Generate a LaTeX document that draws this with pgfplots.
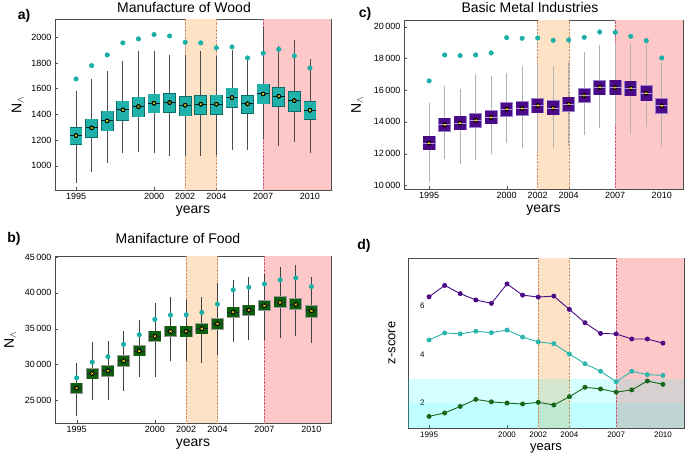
\documentclass[border=0pt]{standalone}
\usepackage{fontspec}
\setmainfont{Liberation Sans}
\usepackage{pgfplots}
\usepackage{pgfplotstable}
\pgfplotsset{compat=1.18}
\definecolor{tealbox}{HTML}{20B2AA}
\definecolor{tealedge}{HTML}{0E6B66}
\definecolor{dotcol}{HTML}{1AB0A8}
\definecolor{purplebox}{HTML}{4B0A86}
\definecolor{purpleedge}{HTML}{9A80D0}
\definecolor{greenbox}{HTML}{0D5E0D}
\definecolor{orangeband}{HTML}{FDE2C5}
\definecolor{redband}{HTML}{FFC8C8}
\definecolor{orangeline}{HTML}{D09060}
\definecolor{redline}{HTML}{C06070}
\definecolor{lpurple}{HTML}{4B0A86}
\definecolor{lcyan}{HTML}{2AB5AD}
\definecolor{lgreen}{HTML}{17661A}
\definecolor{rgbcyan}{RGB}{0,255,255}
\definecolor{meanyel}{HTML}{D8F020}
% x: 0 = 1995 ... 15 = 2010 ; lw lq med uq uw = box plot, dot = top marker
\pgfplotstableread{
x lw lq med uq uw dot
0 888 1166 1234 1296 1558 1675
1 971 1221 1294 1361 1655 1779
2 1042 1273 1348 1423 1712 1862
3 1119 1356 1434 1501 1790 1956
4 1132 1382 1460 1532 1868 1987
5 1125 1413 1486 1556 1868 2021
6 1101 1416 1491 1561 1836 2010
7 1096 1390 1470 1538 1842 1961
8 1101 1400 1478 1545 1868 1956
9 1104 1400 1478 1548 1834 1917
10 1145 1457 1530 1603 1878 1925
11 1145 1408 1481 1543 1834 1839
12 1231 1483 1558 1634 2055 1875
13 1174 1465 1540 1605 1912 1906
14 1208 1423 1506 1577 1958 1855
15 1122 1361 1431 1499 1808 1761
}\wood
\pgfplotstableread{
x lw lq med uq uw dot
0 10419 12243 12662 13082 15010 16583
1 11824 13396 13816 14235 16101 18218
2 11530 13501 13920 14340 15900 18176
3 11761 13648 14088 14507 16813 18218
4 12180 13878 14277 14717 16730 18344
5 12872 14360 14801 15220 16876 19308
6 12558 14423 14843 15283 17358 19266
7 12306 14591 15031 15451 17442 19287
8 12558 14444 14864 15325 17317 19140
9 12662 14675 15115 15555 17568 19161
10 13333 15241 15660 16080 18239 19329
11 13794 15702 16184 16604 18679 19665
12 14046 15702 16164 16625 18784 19644
13 13438 15660 16122 16562 18700 19392
14 13857 15346 15807 16268 18994 19119
15 12579 14549 15010 15451 17547 18029
}\metal
\pgfplotstableread{
x lw lq med uq uw dot
0 23241 26019 26713 27361 29800 28148
1 25509 28056 28750 29398 32731 30350
2 25509 28426 29120 29769 32824 31100
3 26713 29815 30509 31157 34213 32824
4 28657 31250 31898 32593 35787 34167
5 28750 33241 33935 34630 38102 36296
6 30880 33935 34630 35324 38981 36898
7 30880 33889 34630 35324 38565 36944
8 30648 34306 35000 35694 38935 37269
9 31713 35000 35694 36389 40950 38426
10 33611 36620 37315 37963 41389 40417
11 33796 36898 37593 38241 41852 40787
12 33843 37546 38194 38889 42222 41250
13 34120 37963 38657 39398 43241 41806
14 34350 37685 38380 39120 43519 42083
15 33380 36574 37500 38194 41806 40880
}\food
\pgfplotstableread{
x purple cyan green
0 6.38 4.60 1.45
1 6.85 4.89 1.59
2 6.51 4.85 1.86
3 6.25 4.96 2.15
4 6.11 4.90 2.05
5 6.91 5.01 2.00
6 6.45 4.72 1.96
7 6.37 4.52 2.03
8 6.41 4.45 1.92
9 5.86 4.02 2.26
10 5.31 3.62 2.65
11 4.87 3.31 2.58
12 4.85 2.88 2.45
13 4.64 3.31 2.54
14 4.64 3.17 2.91
15 4.47 3.14 2.77
}\zscore
\pgfplotsset{
  common/.style={scale only axis, xmin=-1.35, xmax=16.35,
    xtick={0,5,7,9,12,15}, xticklabels={1995,2000,2002,2004,2007,2010},
    scaled y ticks=false,
    axis line style={draw=black!70, line width=0.8pt},
    tick style={black!70}, tick align=inside, xtick pos=bottom, ytick pos=left,
    major tick length=3pt,
    tick label style={font=\fontsize{9}{10}\selectfont},
    label style={font=\fontsize{14}{15}\selectfont},
    xlabel={years}, xlabel style={yshift=1pt},
    /pgf/number format/assume math mode=true},
  whisk/.style={only marks, mark=none, forget plot,
    error bars/.cd, y dir=both, y explicit, error mark=-,
    error mark options={draw=#1, mark size=3pt, line width=0.7pt},
    error bar style={draw=#1, line width=0.7pt}},
  boxfill/.style 2 args={only marks, mark=none, forget plot,
    error bars/.cd, y dir=both, y explicit, error mark=none,
    error bar style={draw=#1, line width=#2}},
}
\begin{document}
\begin{tikzpicture}
\useasboundingbox (0pt,0pt) rectangle (685pt,-458pt);
% ---------------- panel a ----------------
\begin{axis}[common, at={(55pt,-190pt)}, anchor=south west, width=276pt, height=171pt,
  ymin=810, ymax=2142, ytick={1000,1200,...,2000},
  yticklabel style={/pgf/number format/1000 sep={}},
  ylabel={N$_{\wedge}$}, ylabel style={yshift=1pt}]
\fill[orangeband] (axis cs:7,810) rectangle (axis cs:9,2142);
\fill[redband] (axis cs:12,810) rectangle (axis cs:16.35,2142);
\draw[orangeline, densely dotted] (axis cs:7,810) -- (axis cs:7,2142);
\draw[orangeline, densely dotted] (axis cs:9,810) -- (axis cs:9,2142);
\draw[redline, densely dotted] (axis cs:12,810) -- (axis cs:12,2142);
\addplot[whisk=black!70] table[x=x, y=med, y error plus expr=\thisrow{uw}-\thisrow{med}, y error minus expr=\thisrow{med}-\thisrow{lw}] {\wood};
\addplot[boxfill={tealedge}{12.8pt}] table[x=x, y=med, y error plus expr=\thisrow{uq}-\thisrow{med}+5, y error minus expr=\thisrow{med}-\thisrow{lq}+5] {\wood};
\addplot[boxfill={tealbox}{11.4pt}] table[x=x, y=med, y error plus expr=\thisrow{uq}-\thisrow{med}, y error minus expr=\thisrow{med}-\thisrow{lq}] {\wood};
\addplot[only marks, mark=-, mark size=5.9pt, mark options={draw=black!80!teal, line width=1pt}] table[x=x, y=med] {\wood};
\addplot[only marks, mark=x, mark size=1.3pt, mark options={draw=meanyel, line width=0.6pt}] table[x=x, y=med] {\wood};
\addplot[only marks, mark=*, mark size=2.3pt, color=dotcol] table[x=x, y=dot] {\wood};
\end{axis}
% ---------------- panel c ----------------
\begin{axis}[common, at={(404pt,-189pt)}, anchor=south west, width=279pt, height=169pt,
  xmin=-1.62, xmax=16.37,
  ymin=9770, ymax=20420, ytick={10000,12000,...,20000},
  yticklabel style={/pgf/number format/1000 sep={\,}},
  ylabel={N$_{\wedge}$}, ylabel style={yshift=4pt}]
\fill[orangeband] (axis cs:7,9770) rectangle (axis cs:9,20420);
\fill[redband] (axis cs:12,9770) rectangle (axis cs:16.37,20420);
\draw[orangeline, densely dotted] (axis cs:7,9770) -- (axis cs:7,20420);
\draw[orangeline, densely dotted] (axis cs:9,9770) -- (axis cs:9,20420);
\draw[redline, densely dotted] (axis cs:12,9770) -- (axis cs:12,20420);
\addplot[whisk=black!30] table[x=x, y=med, y error plus expr=\thisrow{uw}-\thisrow{med}, y error minus expr=\thisrow{med}-\thisrow{lw}] {\metal};
\addplot[boxfill={purpleedge}{12.8pt}] table[x=x, y=med, y error plus expr=\thisrow{uq}-\thisrow{med}+38, y error minus expr=\thisrow{med}-\thisrow{lq}+38] {\metal};
\addplot[boxfill={purplebox}{11.4pt}] table[x=x, y=med, y error plus expr=\thisrow{uq}-\thisrow{med}, y error minus expr=\thisrow{med}-\thisrow{lq}] {\metal};
\addplot[only marks, mark=-, mark size=5.7pt, mark options={draw=purpleedge!80!white, line width=0.8pt}] table[x=x, y=med] {\metal};
\addplot[only marks, mark=x, mark size=1.3pt, mark options={draw=orange!50!yellow, line width=0.6pt}] table[x=x, y=med] {\metal};
\addplot[only marks, mark=*, mark size=2.3pt, color=dotcol] table[x=x, y=dot] {\metal};
\end{axis}
% ---------------- panel b ----------------
\begin{axis}[common, at={(55pt,-423pt)}, anchor=south west, width=276pt, height=167pt,
  xmin=-1.38, xmax=16.25,
  ymin=21850, ymax=45140, ytick={25000,30000,...,45000},
  yticklabel style={/pgf/number format/1000 sep={\,}},
  ylabel={N$_{\wedge}$}, ylabel style={yshift=2pt}]
\fill[orangeband] (axis cs:7,21850) rectangle (axis cs:9,45140);
\fill[redband] (axis cs:12,21850) rectangle (axis cs:16.25,45140);
\draw[orangeline, densely dotted] (axis cs:7,21850) -- (axis cs:7,45140);
\draw[orangeline, densely dotted] (axis cs:9,21850) -- (axis cs:9,45140);
\draw[redline, densely dotted] (axis cs:12,21850) -- (axis cs:12,45140);
\addplot[whisk=black!75] table[x=x, y=med, y error plus expr=\thisrow{uw}-\thisrow{med}, y error minus expr=\thisrow{med}-\thisrow{lw}] {\food};
\addplot[boxfill={black!40}{13pt}] table[x=x, y=med, y error plus expr=\thisrow{uq}-\thisrow{med}+110, y error minus expr=\thisrow{med}-\thisrow{lq}+110] {\food};
\addplot[boxfill={greenbox}{11.4pt}] table[x=x, y=med, y error plus expr=\thisrow{uq}-\thisrow{med}, y error minus expr=\thisrow{med}-\thisrow{lq}] {\food};
\addplot[only marks, mark=-, mark size=5.7pt, mark options={draw=black!85, line width=0.9pt}] table[x=x, y=med] {\food};
\addplot[only marks, mark=x, mark size=1.5pt, mark options={draw=yellow!90!green, line width=0.6pt}] table[x=x, y=med] {\food};
\addplot[only marks, mark=*, mark size=2.3pt, color=dotcol] table[x=x, y=dot] {\food};
\end{axis}
% ---------------- panel d ----------------
\begin{axis}[common, at={(408pt,-428pt)}, anchor=south west, width=276pt, height=170pt,
  ymin=0.97, ymax=7.98, ytick={2,4,6},
  ytick style={draw=none},
  tick label style={font=\fontsize{8}{9}\selectfont},
  yticklabel style={xshift=20pt},
  label style={font=\fontsize{13}{14}\selectfont},
  ylabel={z-score}, ylabel style={at={(axis description cs:-0.058,0.5)}, anchor=center}]
\fill[orangeband] (axis cs:7,0.97) rectangle (axis cs:9,7.98);
\fill[redband] (axis cs:12,0.97) rectangle (axis cs:16.35,7.98);
\fill[rgbcyan, fill opacity=0.16] (axis cs:-1.35,0.97) rectangle (axis cs:16.35,3);
\fill[rgbcyan, fill opacity=0.1] (axis cs:-1.35,0.97) rectangle (axis cs:16.35,2);
\draw[orangeline, densely dotted] (axis cs:7,0.97) -- (axis cs:7,7.98);
\draw[orangeline, densely dotted] (axis cs:9,0.97) -- (axis cs:9,7.98);
\draw[redline, densely dotted] (axis cs:12,0.97) -- (axis cs:12,7.98);
\addplot[color=lpurple, line width=0.9pt, mark=*, mark size=2pt] table[x=x, y=purple] {\zscore};
\addplot[color=lcyan, line width=0.9pt, mark=*, mark size=2pt] table[x=x, y=cyan] {\zscore};
\addplot[color=lgreen, line width=0.9pt, mark=*, mark size=2pt] table[x=x, y=green] {\zscore};
\end{axis}
% ---------------- titles and panel letters ----------------
\node[font=\fontsize{14}{15}\selectfont] at (184pt,-7pt) {Manufacture of Wood};
\node[font=\fontsize{14}{15}\selectfont] at (530pt,-7pt) {Basic Metal Industries};
\node[font=\fontsize{14}{15}\selectfont] at (178pt,-238pt) {Manifacture of Food};
\node[font=\bfseries\fontsize{14}{15}\selectfont] at (24pt,-16pt) {a)};
\node[font=\bfseries\fontsize{14}{15}\selectfont] at (365pt,-14pt) {c)};
\node[font=\bfseries\fontsize{14}{15}\selectfont] at (14pt,-239pt) {b)};
\node[font=\bfseries\fontsize{14}{15}\selectfont] at (364pt,-246pt) {d)};
\end{tikzpicture}
\end{document}
